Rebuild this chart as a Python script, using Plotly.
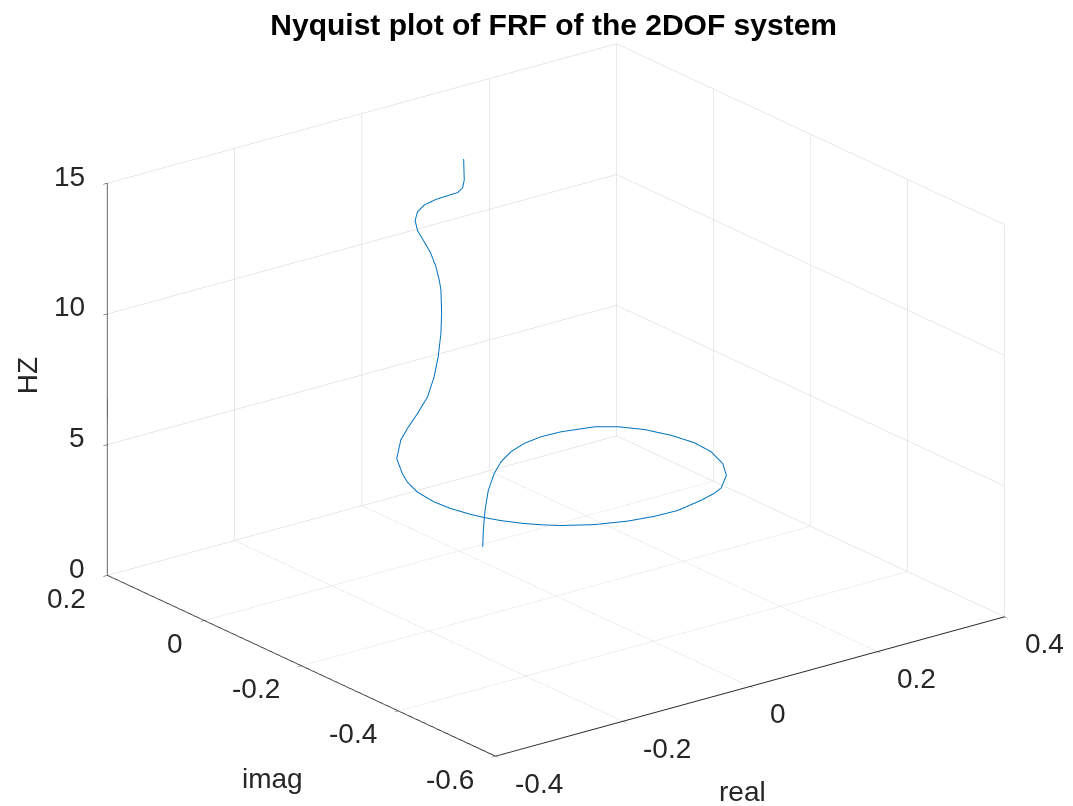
import plotly.graph_objects as go

# FRF values: real part, imaginary part, frequency (Hz)
real = [0.032, 0.0322, 0.0341, 0.0385, 0.0464, 0.0555, 0.0697, 0.0883,
        0.1121, 0.1330, 0.1638, 0.1821, 0.1992, 0.2112, 0.2150, 0.2102,
        0.1952, 0.1729, 0.1361, 0.1141, 0.0812, 0.0360, -0.0019, -0.0394,
        -0.0805, -0.1160, -0.1348, -0.1517, -0.1665, -0.1772, -0.1843, -0.1921,
        -0.1950, -0.1922, -0.1846, -0.1762, -0.1553, -0.1372, -0.1190, -0.0956,
        -0.0737, -0.0588, -0.0494, -0.0436, -0.0425, -0.0474, -0.0539, -0.0629,
        -0.0762, -0.0913, -0.1032, -0.1070, -0.1048, -0.0966, -0.0805, -0.0636,
        -0.0494, -0.0362, -0.0260, -0.0112, 0.0043]
imag = [-0.007, -0.008, -0.009, -0.010, -0.012, -0.014, -0.016, -0.019,
        -0.0222, -0.0360, -0.0644, -0.0886, -0.1211, -0.1605, -0.2035, -0.2442,
        -0.2878, -0.3245, -0.3616, -0.3766, -0.3922, -0.4033, -0.4047, -0.3990,
        -0.3839, -0.3617, -0.3451, -0.3261, -0.3042, -0.2836, -0.2655, -0.2345,
        -0.2039, -0.1661, -0.1356, -0.1143, -0.0755, -0.060, -0.050, -0.040,
        -0.032, -0.026, -0.022, -0.020, -0.020, -0.025, -0.030, -0.035,
        -0.042, -0.048, -0.050, -0.050, -0.052, -0.055, -0.058, -0.060,
        -0.062, -0.055, -0.045, -0.025, -0.004]
hz = [0.0, 0.65, 1.41, 2.15, 2.76, 3.16, 3.47, 3.69,
      3.81, 3.98, 4.21, 4.30, 4.36, 4.40, 4.46, 4.50,
      4.52, 4.54, 4.62, 4.70, 4.78, 4.79, 4.83, 4.85,
      4.86, 4.87, 4.88, 4.89, 4.90, 4.91, 4.92, 4.93,
      4.94, 4.97, 5.04, 5.12, 5.22, 5.67, 5.91, 6.24,
      6.66, 7.28, 7.95, 8.78, 9.54, 10.51, 10.98, 11.59,
      12.25, 12.85, 13.37, 13.78, 14.12, 14.35, 14.48, 14.53,
      14.57, 14.60, 14.75, 14.85, 15.0]

x_ticks = [-0.4, -0.2, 0, 0.2, 0.4]
x_labels = ["-0.4", "-0.2", "0", "0.2", "0.4"]
y_ticks = [-0.6, -0.4, -0.2, 0, 0.2]
y_labels = ["-0.6", "-0.4", "-0.2", "0", "0.2"]
z_ticks = [0, 5, 10, 15]
z_labels = ["0", "5", "10", "15"]

X_RANGE = [-0.4, 0.4]
Y_RANGE = [-0.6, 0.2]
Z_RANGE = [0, 15]

FONT = "Liberation Sans, Arial, Helvetica, sans-serif"
TXT = "#262626"

fig = go.Figure(go.Scatter3d(
    x=real, y=imag, z=hz, mode="lines",
    line=dict(color="#0072BD", width=2),
    showlegend=False, hoverinfo="skip"))

def axis(rng, vals):
    return dict(
        range=rng, autorange=False, tickmode="array", tickvals=vals,
        showticklabels=False, title=dict(text=""),
        showbackground=False, gridcolor="#d2d2d2", gridwidth=1,
        showline=True, linecolor=TXT, linewidth=2,
        ticks="outside", ticklen=5, tickcolor=TXT,
        zeroline=False, showspikes=False)

tick_font = dict(family=FONT, size=28, color=TXT)
ann = []
# real-axis tick labels along the front floor edge
for v, t in zip(x_ticks, x_labels):
    ann.append(dict(x=v, y=Y_RANGE[0], z=Z_RANGE[0], text=t, showarrow=False,
                    xanchor="left", yanchor="middle", xshift=18, yshift=-27,
                    font=tick_font))
# imag-axis tick labels along the left floor edge
for v, t in zip(y_ticks, y_labels):
    ann.append(dict(x=X_RANGE[0], y=v, z=Z_RANGE[0], text=t, showarrow=False,
                    xanchor="right", yanchor="middle", xshift=-19, yshift=-23,
                    font=tick_font))
# HZ tick labels along the left vertical edge
for v, t in zip(z_ticks, z_labels):
    ann.append(dict(x=X_RANGE[0], y=Y_RANGE[1], z=v, text=t, showarrow=False,
                    xanchor="right", yanchor="middle", xshift=-20, yshift=7,
                    font=tick_font))
label_font = dict(family=FONT, size=28, color=TXT)
ann.append(dict(x=0, y=Y_RANGE[0], z=Z_RANGE[0], text="real", showarrow=False,
                xanchor="center", yanchor="middle", xshift=-7, yshift=-105,
                font=label_font))
ann.append(dict(x=X_RANGE[0], y=-0.2, z=Z_RANGE[0], text="imag", showarrow=False,
                xanchor="center", yanchor="middle", xshift=-29, yshift=-113,
                font=label_font))
ann.append(dict(x=X_RANGE[0], y=Y_RANGE[1], z=7.5, text="HZ", showarrow=False,
                xanchor="center", yanchor="middle", xshift=-80, yshift=3,
                textangle=-90, font=label_font))

k = 2.5
s = 1.595
fig.update_layout(
    width=1073, height=806,
    margin=dict(l=0, r=0, t=0, b=0),
    paper_bgcolor="white",
    title=dict(text="<b>Nyquist plot of FRF of the 2DOF system</b>",
               x=0.516, xanchor="center", y=0.969, yanchor="middle",
               font=dict(family=FONT, size=30, color="black")),
    scene=dict(
        domain=dict(x=[0.036, 1.0], y=[0.0075, 1.0]),
        xaxis=axis(X_RANGE, x_ticks),
        yaxis=axis(Y_RANGE, y_ticks),
        zaxis=axis(Z_RANGE, z_ticks),
        aspectmode="manual",
        aspectratio=dict(x=1.0055 * s, y=1.0 * s, z=0.658 * s),
        camera=dict(eye=dict(x=-0.568 * k, y=-0.741 * k, z=0.357 * k),
                    up=dict(x=0, y=0, z=1), center=dict(x=0, y=0, z=0),
                    projection=dict(type="orthographic")),
        annotations=ann,
        bgcolor="white"),
)

fig.write_html("out.html", config={"displayModeBar": False})
